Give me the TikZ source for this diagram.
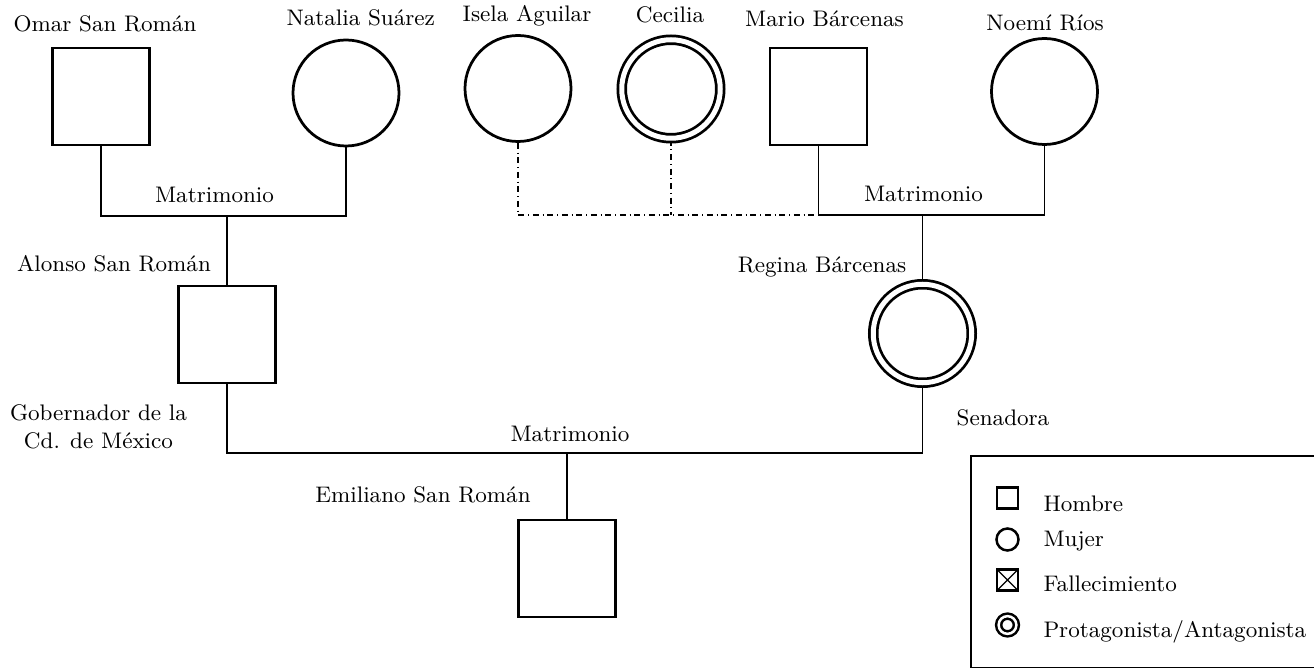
\documentclass[tikz,border=0pt]{standalone}
\usepackage{tikz}
\usetikzlibrary{backgrounds}

\begin{document}
\begin{tikzpicture}
[every node/.style={inner sep=0pt, font=\fontsize{9}{11}\selectfont},
 hombre/.style={rectangle, minimum size=38.8pt, fill=white, line width=1.1pt, draw=black},
 mujer/.style={circle, minimum size=42.4pt, fill=white, line width=1.1pt, draw=black},
 prota/.style={circle, minimum size=39.4pt, fill=white, line width=1.1pt, draw=black, double=white, double distance=2pt},
 nombre/.style={anchor=base},
 enlace/.style={line width=0.6pt, color=black},
 ilegitimo/.style={line width=0.45pt, color=black, dash pattern=on 2.4pt off 1.5pt on 0.4pt off 1.5pt}]
\useasboundingbox (0pt, 0pt) rectangle (525.6pt, -267.2pt);
% personas
\node (1) [hombre] at (40.4pt, -38.6pt) {};
\node (2) [mujer] at (138.4pt, -37.2pt) {};
\node (3) [mujer] at (207.2pt, -35.4pt) {};
\node (4) [prota] at (268.4pt, -35.6pt) {};
\node (5) [hombre] at (327.4pt, -38.6pt) {};
\node (6) [mujer] at (417.8pt, -36.6pt) {};
\node (7) [hombre] at (90.8pt, -133.8pt) {};
\node (8) [prota] at (369.0pt, -133.4pt) {};
\node (9) [hombre] at (226.8pt, -227.4pt) {};
% nombres
\node (n1) [nombre] at (42.0pt, -12.7pt) {Omar San Román};
\node (n2) [nombre] at (144.3pt, -10.4pt) {Natalia Suárez};
\node (n3) [nombre] at (210.8pt, -8.8pt) {Isela Aguilar};
\node (n4) [nombre] at (268.0pt, -9.2pt) {Cecilia};
\node (n5) [nombre] at (329.8pt, -10.8pt) {Mario Bárcenas};
\node (n6) [nombre] at (418.0pt, -12.4pt) {Noemí Ríos};
\node (n7) [nombre] at (45.6pt, -108.8pt) {Alonso San Román};
\node (n8) [nombre] at (328.8pt, -109.0pt) {Regina Bárcenas};
\node (n9) [nombre] at (169.2pt, -201.2pt) {Emiliano San Román};
\node (g7) [align=center] at (39.4pt, -170.8pt) {Gobernador de la\\Cd. de México};
\node (s8) [nombre] at (401.2pt, -170.3pt) {Senadora};
\node (t1) [nombre] at (85.8pt, -81.2pt) {Matrimonio};
\node (t2) [nombre] at (369.4pt, -80.8pt) {Matrimonio};
\node (t3) [nombre] at (228.0pt, -176.8pt) {Matrimonio};
% uniones
\coordinate (m1) at (90.8pt, -86.4pt);
\coordinate (c1) at (327.4pt, -86.0pt);
\coordinate (m2) at (369.0pt, -86.0pt);
\coordinate (m3) at (226.8pt, -181.2pt);
\begin{scope}[on background layer]
\draw [enlace] (1) |- (m1) -| (2);
\draw [enlace] (m1) -- (7);
\draw [enlace] (5) |- (m2) -| (6);
\draw [enlace] (m2) -- (8);
\draw [ilegitimo] (3) |- (c1);
\draw [ilegitimo] (4) -- (4 |- c1);
\draw [enlace] (7) |- (m3) -| (8);
\draw [enlace] (m3) -- (9);
\end{scope}
% simbologia
\node (L) [rectangle, line width=0.8pt, draw=black, minimum width=140pt, minimum height=84.8pt, anchor=north west] at (388.0pt, -182.0pt) {};
\node (l1) [rectangle, minimum size=8.4pt, line width=1pt, draw=black] at (403.0pt, -199.2pt) {};
\node (l2) [circle, minimum size=8.8pt, line width=1pt, draw=black] at (403.0pt, -215.8pt) {};
\node (l3) [rectangle, minimum size=8.4pt, line width=1pt, draw=black,
  path picture={\draw [line width=0.5pt] (path picture bounding box.north west) -- (path picture bounding box.south east)
  (path picture bounding box.south west) -- (path picture bounding box.north east);}] at (403.0pt, -232.0pt) {};
\node (l4) [circle, minimum size=7.1pt, line width=1pt, draw=black, double=white, double distance=1pt] at (403.0pt, -250.0pt) {};
\node (e1) [anchor=base west] at (417.2pt, -204.7pt) {Hombre};
\node (e2) [anchor=base west] at (417.2pt, -218.6pt) {Mujer};
\node (e3) [anchor=base west] at (417.2pt, -236.7pt) {Fallecimiento};
\node (e4) [anchor=base west] at (417.2pt, -255.2pt) {Protagonista/Antagonista};
\end{tikzpicture}
\end{document}
